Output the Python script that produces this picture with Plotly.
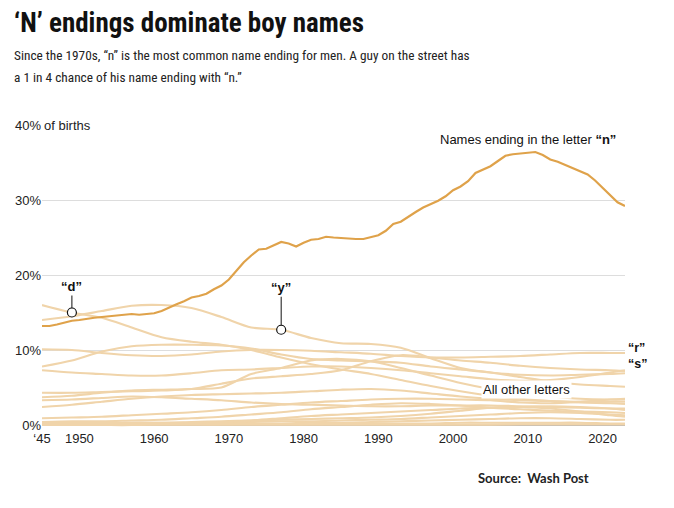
import plotly.graph_objects as go

# ---------------- data ----------------
n_years = list(range(1945, 2024))
n_values = [13.2, 13.2, 13.4, 13.7, 13.9, 14.0, 14.2, 14.3, 14.4, 14.5,
            14.6, 14.8, 14.8, 14.7, 14.8, 14.9, 15.2, 15.7, 16.1, 16.5,
            17.0, 17.2, 17.5, 18.1, 18.6, 19.4, 20.6, 21.7, 22.6, 23.4,
            23.5, 23.9, 24.4, 24.2, 23.8, 24.3, 24.7, 24.8, 25.1, 25.0,
            24.9, 24.9, 24.8, 24.8, 25.0, 25.3, 25.9, 26.8, 27.1, 27.8,
            28.4, 29.0, 29.4, 29.9, 30.5, 31.3, 31.8, 32.5, 33.6, 34.1,
            34.5, 35.2, 35.9, 36.1, 36.2, 36.2, 36.4, 36.0, 35.4, 35.1,
            34.7, 34.2, 33.8, 33.4, 32.6, 31.6, 30.6, 29.7, 29.2]

other_years = [1945, 1949, 1953, 1957, 1961, 1965, 1969, 1973, 1977, 1981, 1985,
               1989, 1993, 1997, 2001, 2005, 2009, 2013, 2017, 2021, 2023]

d_values = [16.0, 15.0, 14.3, 13.0, 11.7, 11.1, 10.7, 10.0, 9.0, 8.1, 7.4,
            6.8, 6.0, 5.2, 4.5, 3.9, 3.5, 3.2, 3.0, 2.9, 2.8]
y_values = [14.0, 14.5, 15.2, 15.9, 16.0, 15.6, 14.4, 13.0, 12.7, 11.6, 10.9,
            10.8, 10.3, 8.9, 7.6, 7.0, 6.7, 6.6, 6.7, 6.8, 6.9]
r_values = [10.1, 10.0, 9.6, 9.3, 9.2, 9.4, 9.8, 10.0, 10.0, 9.9, 9.7,
            9.5, 9.2, 9.0, 9.0, 9.1, 9.2, 9.4, 9.6, 9.6, 9.6]
s_values = [7.3, 7.0, 6.8, 6.6, 6.6, 6.9, 7.3, 7.4, 7.6, 7.8, 7.8,
            7.6, 7.3, 6.9, 6.5, 6.1, 5.9, 6.0, 6.4, 7.0, 7.3]
e_values = [7.8, 8.6, 9.8, 10.5, 10.7, 10.7, 10.6, 10.2, 9.4, 8.8, 8.6,
            8.5, 8.3, 7.8, 7.4, 7.0, 6.4, 5.8, 5.4, 5.2, 5.1]
l_values = [4.3, 4.3, 4.4, 4.5, 4.6, 4.8, 5.5, 6.2, 6.5, 6.8, 7.3,
            8.5, 9.3, 9.0, 8.6, 8.3, 7.9, 7.6, 7.4, 7.3, 7.2]
o_values = [3.7, 3.9, 4.3, 4.6, 4.7, 4.8, 5.0, 6.8, 7.6, 8.6, 8.8,
            8.5, 7.6, 6.6, 5.6, 4.8, 4.2, 3.8, 3.5, 3.4, 3.4]
t_values = [3.3, 3.4, 3.6, 3.8, 3.7, 3.5, 3.3, 3.0, 2.8, 2.7, 2.6,
            2.5, 2.5, 2.6, 2.6, 2.6, 2.5, 2.4, 2.3, 2.2, 2.2]
k_values = [2.4, 2.7, 3.1, 3.5, 3.8, 4.0, 4.1, 4.2, 4.3, 4.5, 4.7,
            4.8, 4.6, 4.2, 3.8, 3.5, 3.3, 3.2, 3.1, 3.1, 3.1]
a_values = [0.9, 1.0, 1.1, 1.3, 1.5, 1.7, 2.0, 2.4, 2.7, 3.0, 3.2,
            3.4, 3.5, 3.5, 3.4, 3.3, 3.0, 2.9, 3.1, 3.4, 3.5]
h_values = [0.4, 0.5, 0.5, 0.6, 0.7, 0.9, 1.1, 1.4, 1.7, 2.1, 2.4,
            2.7, 2.9, 2.8, 2.6, 2.3, 2.1, 1.9, 1.8, 1.7, 1.6]
o2_values = [0.2, 0.2, 0.2, 0.3, 0.3, 0.4, 0.5, 0.6, 0.7, 0.8, 0.9,
             1.0, 1.2, 1.5, 1.9, 2.3, 2.4, 2.2, 1.8, 1.3, 1.1]
i_values = [0.1, 0.1, 0.1, 0.1, 0.2, 0.2, 0.3, 0.4, 0.5, 0.5, 0.6,
            0.7, 0.8, 1.0, 1.2, 1.4, 1.6, 1.7, 1.6, 1.4, 1.3]
x_values = [0.3, 0.3, 0.3, 0.3, 0.3, 0.3, 0.4, 0.6, 0.9, 1.2, 1.4,
            1.6, 1.8, 2.0, 2.2, 2.3, 2.4, 2.5, 2.4, 2.2, 2.0]
c_values = [0.1, 0.1, 0.1, 0.1, 0.1, 0.1, 0.1, 0.2, 0.2, 0.3, 0.3,
            0.4, 0.5, 0.6, 0.7, 0.8, 0.9, 0.9, 0.8, 0.7, 0.7]
b_values = [0.0, 0.0, 0.0, 0.0, 0.1, 0.1, 0.1, 0.1, 0.1, 0.1, 0.2,
            0.2, 0.2, 0.2, 0.3, 0.3, 0.3, 0.3, 0.3, 0.2, 0.2]
z_values = [0.05, 0.05, 0.05, 0.05, 0.05, 0.05, 0.05, 0.05, 0.05, 0.05, 0.05,
            0.05, 0.05, 0.05, 0.05, 0.05, 0.1, 0.1, 0.1, 0.1, 0.1]

other_series = [d_values, y_values, r_values, s_values, e_values, l_values,
                o_values, t_values, k_values, a_values, h_values, o2_values,
                i_values, x_values, c_values, b_values, z_values]

x_tick_vals = [1945, 1950, 1960, 1970, 1980, 1990, 2000, 2010, 2020]
x_tick_text = ["‘45", "1950", "1960", "1970", "1980", "1990", "2000", "2010", "2020"]
y_tick_vals = [0, 10, 20, 30, 40]
y_tick_text = ["0%", "10%", "20%", "30%", "40%"]

# ---------------- styling ----------------
PALE = "rgb(240, 212, 170)"
ORANGE = "#dfa24a"
FONT = "Liberation Sans, Arial, sans-serif"
NARROW = "Roboto Condensed, Liberation Sans, sans-serif"

W, H = 674, 508
ML, MR, MT, MB = 42, 49, 125, 80
PW, PH = W - ML - MR, H - MT - MB


def px(xp):
    return (xp - ML) / PW


def py(yp):
    return (H - MB - yp) / PH


fig = go.Figure()

for vals in other_series:
    fig.add_trace(go.Scatter(x=other_years, y=vals, mode="lines",
                             line=dict(color=PALE, width=2.2, shape="spline", smoothing=0.8),
                             hoverinfo="skip", showlegend=False))

fig.add_trace(go.Scatter(x=n_years, y=n_values, mode="lines",
                         line=dict(color=ORANGE, width=2.2),
                         hoverinfo="skip", showlegend=False))

# marker points for "d" (1949) and "y" (1977)
d_idx = other_years.index(1949)
y_idx = other_years.index(1977)
fig.add_trace(go.Scatter(x=[other_years[d_idx], other_years[y_idx]],
                         y=[d_values[d_idx], y_values[y_idx]],
                         mode="markers",
                         marker=dict(size=9, color="white", line=dict(color="#111", width=1.2)),
                         hoverinfo="skip", showlegend=False))

annotations = [
    dict(x=other_years[d_idx], y=d_values[d_idx], xref="x", yref="y",
         text="<b>“d”</b>", showarrow=True, arrowhead=0, arrowwidth=1, arrowcolor="#111",
         ax=0, ay=-26, standoff=4.5, font=dict(family=FONT, size=13, color="#111")),
    dict(x=other_years[y_idx], y=y_values[y_idx], xref="x", yref="y",
         text="<b>“y”</b>", showarrow=True, arrowhead=0, arrowwidth=1, arrowcolor="#111",
         ax=0, ay=-42, standoff=4.5, font=dict(family=FONT, size=13, color="#111")),
    dict(x=2022, y=38.1, xref="x", yref="y", xanchor="right", yanchor="middle",
         text="Names ending in the letter <b>“n”</b>", showarrow=False,
         font=dict(family=FONT, size=13, color="#111")),
    dict(x=2009.8, y=4.7, xref="x", yref="y", xanchor="center", yanchor="middle",
         text="All other letters", showarrow=False, bgcolor="white", borderpad=1,
         font=dict(family=FONT, size=13, color="#111")),
    dict(x=1, y=10.3, xref="paper", yref="y", xanchor="left", yanchor="middle", xshift=1,
         text="<b>“r”</b>", showarrow=False, font=dict(family=FONT, size=12.5, color="#111")),
    dict(x=1, y=8.2, xref="paper", yref="y", xanchor="left", yanchor="middle", xshift=1,
         text="<b>“s”</b>", showarrow=False, font=dict(family=FONT, size=12.5, color="#111")),
    dict(x=0, y=40, xref="paper", yref="y", xanchor="left", yanchor="middle", xshift=-1,
         text="of births", showarrow=False, bgcolor="white", borderpad=2,
         font=dict(family=FONT, size=13, color="#222")),
    dict(x=px(12), y=py(23), xref="paper", yref="paper", xanchor="left", yanchor="middle",
         text="<b>‘N’ endings dominate boy names</b>", showarrow=False,
         font=dict(family=NARROW, size=27, color="#111")),
    dict(x=px(12), y=py(55), xref="paper", yref="paper", xanchor="left", yanchor="middle",
         text="Since the 1970s, “n” is the most common name ending for men. A guy on the street has",
         showarrow=False, font=dict(family=NARROW, size=13.3, color="#222")),
    dict(x=px(12), y=py(77), xref="paper", yref="paper", xanchor="left", yanchor="middle",
         text="a 1 in 4 chance of his name ending with “n.”",
         showarrow=False, font=dict(family=NARROW, size=13.3, color="#222")),
    dict(x=px(533), y=py(478), xref="paper", yref="paper", xanchor="center", yanchor="middle",
         text="<b>Source:  Wash Post</b>", showarrow=False,
         font=dict(family="Lato, Open Sans, sans-serif", size=13, color="#222")),
]

fig.update_layout(
    width=W, height=H,
    margin=dict(l=ML, r=MR, t=MT, b=MB),
    paper_bgcolor="white", plot_bgcolor="white",
    annotations=annotations,
    xaxis=dict(range=[1945, 2023], tickvals=x_tick_vals, ticktext=x_tick_text,
               showgrid=False, zeroline=False, showline=False, ticks="",
               ticklabelstandoff=1,
               tickfont=dict(family=FONT, size=13, color="#222"), fixedrange=True),
    yaxis=dict(range=[-0.4, 40], tickvals=y_tick_vals, ticktext=y_tick_text,
               showgrid=True, gridcolor="#dddddd", gridwidth=1,
               zeroline=True, zerolinecolor="#c4bcb2", zerolinewidth=2,
               showline=False, ticks="", ticklabelstandoff=0,
               tickfont=dict(family=FONT, size=13, color="#222"), fixedrange=True),
)

fig.write_html("out.html", config={"displayModeBar": False},
               post_script="document.body.style.margin='0px';")
